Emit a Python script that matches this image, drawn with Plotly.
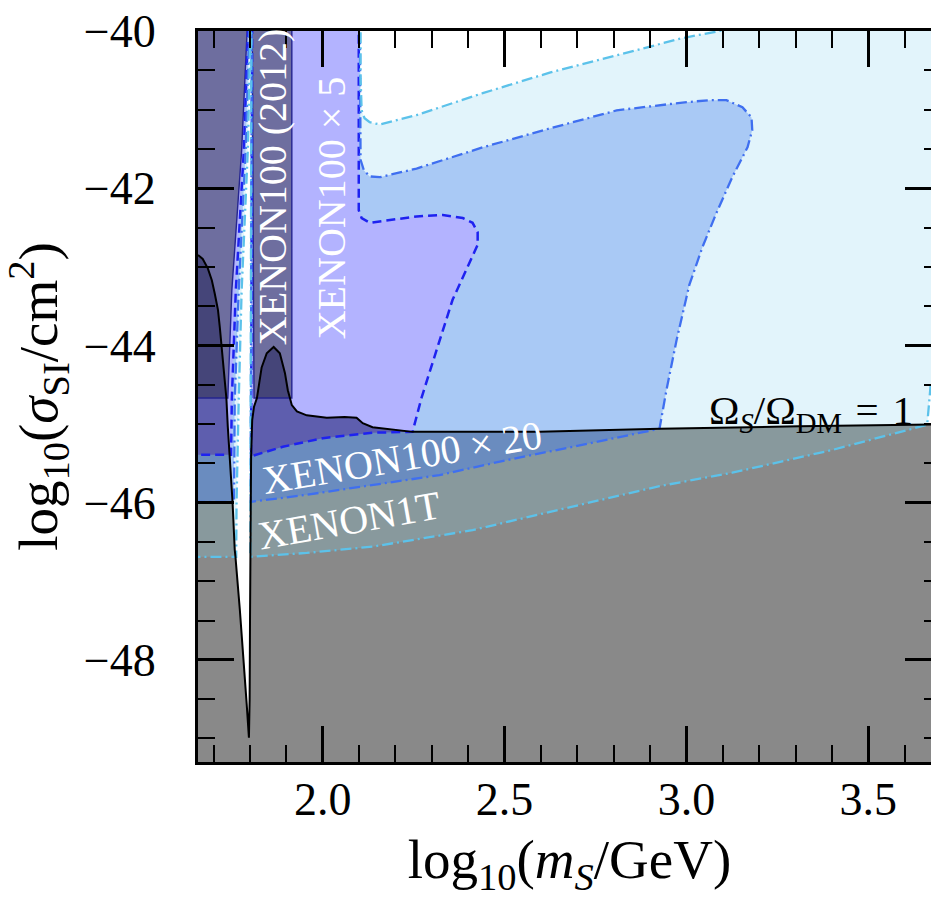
import plotly.graph_objects as go

# ---- axes -----------------------------------------------------------------
X_RANGE = [1.657, 3.70]          # log10(m_S / GeV)
Y_RANGE = [-49.3, -40.0]         # log10(sigma_SI / cm^2)
X_TICKS = [2.0, 2.5, 3.0, 3.5]
X_TICK_TEXT = ["2.0", "2.5", "3.0", "3.5"]
Y_TICKS = [-48, -46, -44, -42, -40]
Y_TICK_TEXT = ["\u221248", "\u221246", "\u221244", "\u221242", "\u221240"]

# ---- relic-density contour  Omega_S / Omega_DM = 1 -------------------------
# branch below the Higgs resonance (m_S < m_h/2)
relic_left_x = [1.657, 1.670, 1.684, 1.695, 1.703, 1.712, 1.717, 1.725, 1.735,
                1.739, 1.744, 1.750, 1.752, 1.758, 1.760, 1.772, 1.783, 1.791, 1.797]
relic_left_y = [-42.85, -42.90, -43.02, -43.17, -43.34, -43.55, -43.77, -44.19, -44.67,
                -45.04, -45.39, -45.84, -45.99, -46.60, -46.69, -47.36, -48.00, -48.57, -48.99]
# branch above the resonance, out to high mass
relic_right_x = [1.797, 1.799, 1.800, 1.801, 1.802, 1.803, 1.806, 1.811, 1.819, 1.832,
                 1.846, 1.865, 1.882, 1.896, 1.904, 1.909, 1.915, 1.929, 1.956, 2.011,
                 2.060, 2.093, 2.110, 2.137, 2.247, 2.596, 2.926, 3.310, 3.662, 3.750]
relic_right_y = [-48.99, -48.50, -47.50, -46.69, -45.99, -45.41, -44.95, -44.78, -44.67, -44.28,
                 -44.10, -44.02, -44.10, -44.35, -44.57, -44.67, -44.76, -44.84, -44.89, -44.92,
                 -44.91, -44.92, -44.99, -45.04, -45.10, -45.10, -45.06, -45.03, -45.01, -45.00]

# ---- exclusion contours -----------------------------------------------------
# each limit is split by the resonance funnel into a part left of it
# (wall down to a flat lower edge) and a part right of it.

# XENON100 (2012)
x12_left_wall_x = [1.794, 1.777, 1.750, 1.739]
x12_left_wall_y = [-39.8, -41.52, -43.30, -44.67]
x12_floor = -44.67
x12_right_x = [1.806, 1.915, 1.915, 1.811]
x12_right_y = [-39.8, -39.8, -44.67, -44.67]
x12_bump_floor_x = [1.819, 1.909]

# XENON100 x 5
x5_left_wall_x = [1.796, 1.783, 1.761, 1.750, 1.748]
x5_left_wall_y = [-39.8, -41.52, -43.30, -44.69, -45.39]
x5_floor = -45.39
x5_wall_top = 1.806
x5_upper_x = [2.099, 2.099, 2.107, 2.129, 2.176, 2.258, 2.330, 2.385, 2.412, 2.426,
              2.426, 2.404, 2.357, 2.313, 2.272, 2.247]
x5_upper_y = [-39.8, -42.28, -42.38, -42.44, -42.41, -42.36, -42.34, -42.38, -42.44, -42.56,
              -42.72, -42.94, -43.42, -44.06, -44.66, -45.10]
x5_lower_x = [1.803, 1.890, 2.000, 2.137, 2.247]
x5_lower_y = [-45.41, -45.29, -45.18, -45.11, -45.10]

# XENON100 x 20
x20_left_wall_x = [1.799, 1.788, 1.769, 1.758, 1.756, 1.756]
x20_left_wall_y = [-39.8, -41.52, -43.30, -44.69, -45.39, -45.99]
x20_floor = -45.99
x20_wall_top = 1.805
x20_upper_x = [2.102, 2.104, 2.113, 2.129, 2.157, 2.258, 2.440, 2.624, 2.808, 2.989,
               3.063, 3.110, 3.154, 3.179, 3.181, 3.168, 3.126, 3.082, 3.044, 3.008,
               2.973, 2.945, 2.926]
x20_upper_y = [-39.8, -41.64, -41.77, -41.85, -41.86, -41.75, -41.48, -41.24, -41.01, -40.91,
               -40.88, -40.88, -40.97, -41.10, -41.26, -41.48, -41.86, -42.32, -42.75, -43.23,
               -43.93, -44.57, -45.06]
x20_lower_x = [1.802, 1.956, 2.137, 2.321, 2.505, 2.687, 2.926]
x20_lower_y = [-45.99, -45.90, -45.78, -45.65, -45.46, -45.29, -45.06]

# XENON1T
x1t_left_wall_x = [1.802, 1.794, 1.777, 1.769, 1.765, 1.763, 1.762]
x1t_left_wall_y = [-39.8, -41.52, -43.30, -44.69, -45.39, -45.99, -46.69]
x1t_floor = -46.69
x1t_wall_top = 1.804
x1t_upper_x = [2.104, 2.104, 2.107, 2.115, 2.129, 2.157, 2.258, 2.440, 2.624, 2.808,
               2.989, 3.091, 3.180, 3.750, 3.750, 3.700, 3.672, 3.662]
x1t_upper_y = [-39.8, -40.60, -41.01, -41.11, -41.16, -41.19, -41.07, -40.79, -40.53, -40.31,
               -40.09, -40.00, -39.85, -39.60, -43.90, -44.20, -44.48, -45.01]
x1t_lower_x = [1.801, 1.956, 2.137, 2.412, 2.687, 2.926, 3.126, 3.401, 3.662]
x1t_lower_y = [-46.69, -46.64, -46.56, -46.35, -46.05, -45.79, -45.62, -45.33, -45.01]

# ---- colours ----------------------------------------------------------------
C_1T, C_1T_OVER = "#e2f4fb", "#88999d"
C_20, C_20_OVER = "#a9c9f5", "#6a8cbf"
C_5, C_5_OVER = "#b3b3ff", "#5e5eae"
C_12, C_12_OVER = "#6e6e9f", "#454579"
C_RELIC = "#898989"
L_1T = "#5cc2ea"
L_20 = "#3f6ff0"
L_5 = "#1e22f0"
L_12 = "#25258f"

OUT_X = 1.60       # beyond the left frame
OUT_BOTTOM = -49.6

FONT = "Liberation Serif, Times New Roman, serif"

fig = go.Figure()


def fill(xs, ys, color):
    fig.add_trace(go.Scatter(x=xs, y=ys, mode="none", fill="toself", fillcolor=color,
                             hoverinfo="skip", showlegend=False))


def outline(xs, ys, color, width, dash):
    fig.add_trace(go.Scatter(x=xs + xs[:1], y=ys + ys[:1], mode="lines",
                             line=dict(color=color, width=width, dash=dash),
                             hoverinfo="skip", showlegend=False))


def left_poly(wall_x, wall_y, floor):
    xs = [OUT_X] + wall_x + [OUT_X]
    ys = [wall_y[0]] + wall_y + [floor]
    return xs, ys


def right_poly(wall_top, upper_x, upper_y, lower_x, lower_y):
    xs = [wall_top] + upper_x + lower_x[::-1][1:]
    ys = [upper_y[0]] + upper_y + lower_y[::-1][1:]
    return xs, ys


relic_left = list(zip(relic_left_x, relic_left_y))
relic_right = list(zip(relic_right_x, relic_right_y))


def left_band(floor):
    k = relic_left_y.index(floor)
    xs = [OUT_X] + relic_left_x[:k + 1] + [OUT_X]
    ys = [relic_left_y[0]] + relic_left_y[:k + 1] + [floor]
    return xs, ys


def right_band(lower_x, lower_y):
    i0 = relic_right.index((lower_x[0], lower_y[0]))
    i1 = relic_right.index((lower_x[-1], lower_y[-1]))
    xs = relic_right_x[i0:i1 + 1] + lower_x[::-1][1:-1]
    ys = relic_right_y[i0:i1 + 1] + lower_y[::-1][1:-1]
    return xs, ys


regions = [
    dict(left=left_poly(x1t_left_wall_x, x1t_left_wall_y, x1t_floor),
         right=right_poly(x1t_wall_top, x1t_upper_x, x1t_upper_y, x1t_lower_x, x1t_lower_y),
         band_l=left_band(x1t_floor), band_r=right_band(x1t_lower_x, x1t_lower_y),
         c=C_1T, c_over=C_1T_OVER, lc=L_1T, lw=2.3, dash="11px,4px,2px,4px"),
    dict(left=left_poly(x20_left_wall_x, x20_left_wall_y, x20_floor),
         right=right_poly(x20_wall_top, x20_upper_x, x20_upper_y, x20_lower_x, x20_lower_y),
         band_l=left_band(x20_floor), band_r=right_band(x20_lower_x, x20_lower_y),
         c=C_20, c_over=C_20_OVER, lc=L_20, lw=2.3, dash="11px,4px,2px,4px"),
    dict(left=left_poly(x5_left_wall_x, x5_left_wall_y, x5_floor),
         right=right_poly(x5_wall_top, x5_upper_x, x5_upper_y, x5_lower_x, x5_lower_y),
         band_l=left_band(x5_floor), band_r=right_band(x5_lower_x, x5_lower_y),
         c=C_5, c_over=C_5_OVER, lc=L_5, lw=2.5, dash="9px,5px"),
    dict(left=left_poly(x12_left_wall_x, x12_left_wall_y, x12_floor),
         right=(x12_right_x, x12_right_y),
         band_l=left_band(x12_floor),
         band_r=right_band(x12_bump_floor_x, [x12_floor, x12_floor]),
         c=C_12, c_over=C_12_OVER, lc=L_12, lw=1.4, dash="solid"),
]

# limits in the under-abundant region
for r in regions:
    fill(*r["left"], r["c"])
    fill(*r["right"], r["c"])

# over-abundant region below the relic contour
fill([OUT_X] + relic_left_x + relic_right_x[1:] + [relic_right_x[-1], OUT_X],
     [relic_left_y[0]] + relic_left_y + relic_right_y[1:] + [OUT_BOTTOM, OUT_BOTTOM],
     C_RELIC)

# limits seen through the over-abundant region
for r in regions:
    fill(*r["band_l"], r["c_over"])
    fill(*r["band_r"], r["c_over"])

# contour lines
for r in regions[::-1]:
    outline(*map(list, r["left"]), r["lc"], r["lw"], r["dash"])
    outline(*map(list, r["right"]), r["lc"], r["lw"], r["dash"])

fig.add_trace(go.Scatter(x=relic_left_x + relic_right_x[1:], y=relic_left_y + relic_right_y[1:],
                         mode="lines", line=dict(color="black", width=2),
                         hoverinfo="skip", showlegend=False))

# ---- labels -----------------------------------------------------------------
label_font = dict(family=FONT, size=40, color="white")
fig.add_annotation(x=1.862, y=-41.98, text="XENON100 (2012)", textangle=-90,
                   showarrow=False, font=label_font)
fig.add_annotation(x=2.024, y=-42.25, text="XENON100 \u00d7 5", textangle=-90,
                   showarrow=False, font=label_font)
fig.add_annotation(x=2.220, y=-45.43, text="XENON100 \u00d7 20", textangle=-9.5,
                   showarrow=False, font=label_font)
fig.add_annotation(x=2.071, y=-46.23, text="XENON1T", textangle=-10,
                   showarrow=False, font=label_font)
fig.add_annotation(x=3.343, y=-44.86,
                   text="\u03a9<sub><i>S</i></sub>/\u03a9<sub>DM</sub>\u2004=\u20041",
                   showarrow=False, font=dict(family=FONT, size=41, color="black"))

axis_common = dict(showgrid=False, zeroline=False, showline=True, linewidth=3,
                   linecolor="black", mirror="ticks", ticks="inside", ticklen=36,
                   tickwidth=2.6, tickcolor="black", automargin=False,
                   tickfont=dict(family=FONT, size=46, color="black"))

TITLE_FONT = dict(family=FONT, size=55, color="black")

fig.update_xaxes(range=X_RANGE, tickmode="array", tickvals=X_TICKS, ticktext=X_TICK_TEXT,
                 minor=dict(ticks="inside", ticklen=17, tickwidth=1.8, tickcolor="black",
                            dtick=0.1, tick0=2.0),
                 ticklabelstandoff=-5,
                 title=dict(text="log<sub>10</sub>(<i>m<sub>S</sub></i>/GeV)",
                            font=TITLE_FONT, standoff=39),
                 **axis_common)
fig.update_yaxes(range=Y_RANGE, tickmode="array", tickvals=Y_TICKS, ticktext=Y_TICK_TEXT,
                 minor=dict(ticks="inside", ticklen=17, tickwidth=1.8, tickcolor="black",
                            dtick=0.5, tick0=-40),
                 ticklabelstandoff=30,
                 title=dict(text="log<sub>10</sub>(<i>\u03c3</i><sub>SI</sub>/cm<sup>2</sup>)",
                            font=TITLE_FONT, standoff=10),
                 **axis_common)

fig.update_layout(width=945, height=898, margin=dict(l=198, r=4, t=31, b=136),
                  plot_bgcolor="white", paper_bgcolor="white", showlegend=False,
                  font=dict(family=FONT))

fig.write_html("out.html",
               post_script="document.documentElement.style.overflow='hidden';"
                           "document.body.style.overflow='hidden';"
                           "document.body.style.margin='0';")
